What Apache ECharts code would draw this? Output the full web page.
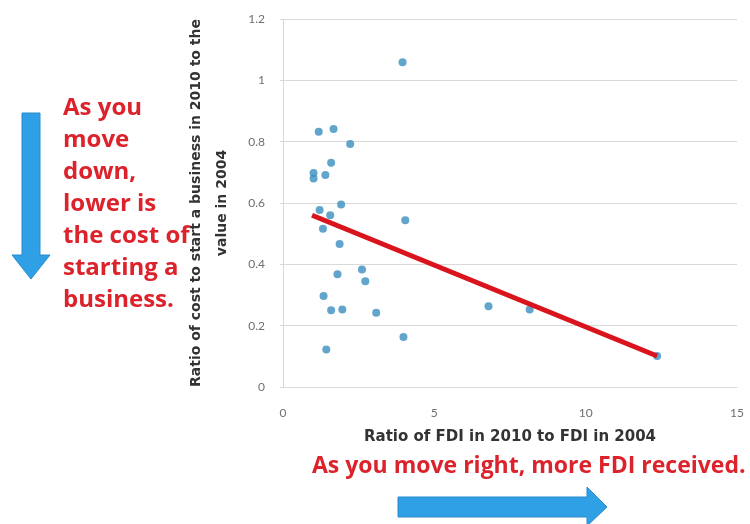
<!DOCTYPE html>
<html>
<head>
<meta charset="utf-8">
<script src="https://cdn.jsdelivr.net/npm/echarts@6/dist/echarts.min.js"></script>
<style>html,body{margin:0;padding:0;background:#fff;}#c{width:750px;height:524px;}</style>
</head>
<body>
<div id="c"></div>
<script>
// Data
var fdiRatio = [3.95, 1.18, 1.67, 2.22, 1.59, 1.01, 1.01, 1.40, 1.92, 1.21, 1.56, 1.32, 4.04, 1.87, 2.61, 2.72, 1.80, 1.34, 1.59, 1.96, 3.08, 6.79, 8.15, 3.98, 1.43, 12.36];
var costRatio = [1.059, 0.832, 0.841, 0.792, 0.731, 0.698, 0.680, 0.691, 0.595, 0.577, 0.560, 0.516, 0.544, 0.466, 0.383, 0.345, 0.368, 0.297, 0.250, 0.253, 0.242, 0.263, 0.253, 0.163, 0.122, 0.101];
var trendX = [0.96, 12.36];
var trendY = [0.560, 0.101];
var xTicks = [0, 5, 10, 15];
var yTicks = [0, 0.2, 0.4, 0.6, 0.8, 1, 1.2];
var xTitle = 'Ratio of FDI in 2010 to FDI in 2004';
var yTitle = 'Ratio of cost to start a business in 2010 to the\nvalue in 2004';
var noteLeft = ['As you', 'move', 'down,', 'lower is', 'the cost of', 'starting a', 'business.'];
var noteBottom = 'As you move right, more FDI received.';

var points = fdiRatio.map(function (x, i) { return [x, costRatio[i]]; });
var trend = trendX.map(function (x, i) { return [x, trendY[i]]; });

var chart = echarts.init(document.getElementById('c'));
var red = '#dc222b';
var blue = '#2f9fe6';
chart.setOption({
  animation: false,
  grid: { left: 283, right: 13, top: 19, bottom: 137 },
  xAxis: {
    type: 'value', min: xTicks[0], max: xTicks[xTicks.length - 1], interval: 5,
    name: xTitle, nameLocation: 'middle', nameGap: 43,
    nameTextStyle: { fontFamily: 'DejaVu Sans', fontWeight: 'bold', fontSize: 15, color: '#333' },
    axisLine: { show: true, lineStyle: { color: '#d9d9d9' } },
    axisTick: { show: false },
    splitLine: { show: false },
    axisLabel: { margin: 20, fontFamily: 'Lato', fontSize: 12, color: '#6f6f6f' }
  },
  yAxis: {
    type: 'value', min: yTicks[0], max: yTicks[yTicks.length - 1], interval: 0.2,
    name: yTitle, nameLocation: 'middle', nameGap: 48, nameRotate: 90,
    nameTextStyle: { fontFamily: 'DejaVu Sans', fontWeight: 'bold', fontSize: 14, color: '#333', lineHeight: 26, align: 'center' },
    axisLine: { show: true, lineStyle: { color: '#d9d9d9' } },
    axisTick: { show: true, length: 3, lineStyle: { color: '#d9d9d9' } },
    splitLine: { show: true, lineStyle: { color: '#d9d9d9' } },
    axisLabel: { margin: 18, fontFamily: 'Lato', fontSize: 12, color: '#6f6f6f' }
  },
  series: [
    {
      type: 'scatter', data: points, symbolSize: 8,
      itemStyle: { color: '#3a8fc0' }, z: 2
    },
    {
      type: 'line', data: trend, symbol: 'none',
      lineStyle: { color: '#d9141c', width: 5 }, z: 3
    }
  ],
  graphic: [
    {
      type: 'polygon', z: 10,
      shape: { points: [[22, 113], [40, 113], [40, 255], [50, 255], [31, 279], [12, 255], [22, 255]] },
      style: { fill: blue, stroke: '#2a8ccc', lineWidth: 1 }
    },
    {
      type: 'polygon', z: 10,
      shape: { points: [[398, 497], [587, 497], [587, 487], [607, 507], [587, 526], [587, 517], [398, 517]] },
      style: { fill: blue, stroke: '#2a8ccc', lineWidth: 1 }
    },
    {
      type: 'text', left: 63, top: 92, z: 10,
      style: { text: noteLeft.join('\n'), fontFamily: 'Open Sans', fontWeight: 'bold', fontSize: 24, lineHeight: 32, fill: red }
    },
    {
      type: 'text', left: 312, top: 455, z: 10,
      style: { text: noteBottom, fontFamily: 'Open Sans', fontWeight: 'bold', fontSize: 23, fill: red }
    }
  ]
});
</script>
</body>
</html>
